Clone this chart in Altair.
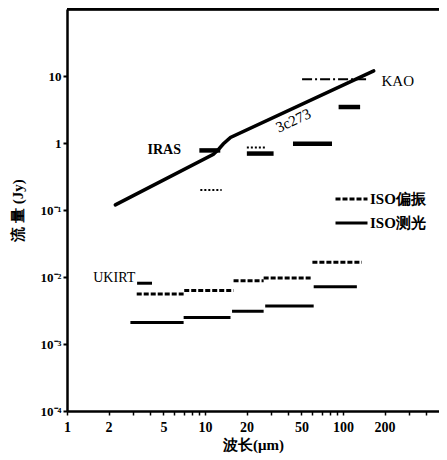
import altair as alt
import pandas as pd

SERIF = "Liberation Serif"

# 3C273 continuum curve
curve_wl = [2.24, 11.5, 12.6, 13.6, 15.3, 167.0]
curve_flux = [0.12, 0.68, 0.82, 0.98, 1.22, 12.0]

# thick bars (IRAS / ISO photometry, upper)
thick_x1 = [9.1, 20.1, 43.4, 92.9]
thick_x2 = [12.9, 31.4, 83.2, 133.0]
thick_flux = [0.78, 0.70, 0.98, 3.47]

# dotted segments
dot_x1 = [20.1, 9.25]
dot_x2 = [27.4, 13.2]
dot_flux = [0.86, 0.20]

# KAO dash-dot
kao_x1 = [50.5]
kao_x2 = [149.0]
kao_flux = [9.0]

# UKIRT bar
ukirt_x1 = [3.22]
ukirt_x2 = [4.13]
ukirt_flux = [0.0081]

# ISO polarization (dashed)
pol_x1 = [3.2, 7.07, 16.1, 26.6, 60.0]
pol_x2 = [7.0, 16.1, 26.6, 59.6, 137.0]
pol_flux = [0.0056, 0.0063, 0.0088, 0.0097, 0.0166]

# ISO photometry (solid, lower)
phot_x1 = [2.88, 7.0, 15.7, 27.3, 61.3]
phot_x2 = [7.0, 15.3, 26.6, 61.3, 126.0]
phot_flux = [0.0021, 0.0025, 0.0031, 0.0037, 0.0072]

# annotation labels
bold_text = ["IRAS"]
bold_x = [6.7]
bold_y = [0.80]
reg_text = ["UKIRT"]
reg_x = [3.12]
reg_y = [0.0098]
kao_text = ["KAO"]
kao_lx = [190.0]
kao_ly = [8.4]

x_ticks = [1, 2, 3, 4, 5, 6, 7, 8, 9, 10, 20, 30, 40, 50, 60, 70, 80, 90, 100, 200, 300, 400]
x_labels = [1, 2, 5, 10, 20, 50, 100, 200]
y_ticks = [1e-4, 1e-3, 1e-2, 1e-1, 1, 10]

W, H = 372, 402
xscale = alt.Scale(type="log", domain=[1, 496], nice=False)
yscale = alt.Scale(type="log", domain=[1e-4, 101], nice=False)

x_axis = alt.Axis(
    title="波长(μm)", values=x_ticks,
    labelExpr="indexof(" + str(x_labels) + ", datum.value) >= 0 ? datum.label : ''",
    grid=False, domainWidth=2.5, domainColor="black", tickColor="black",
    tickWidth=1.5, tickSize=4, labelFont=SERIF, labelFontSize=14, labelFontWeight="bold",
    labelColor="black", labelPadding=5, titleFont=SERIF, titleFontSize=15,
    titleFontWeight="bold", titleColor="black", titlePadding=3, labelFlush=False,
)
y_axis = alt.Axis(
    title="流 量 (Jy)", values=y_ticks,
    labelExpr="datum.value == 10 ? '10' : datum.value == 1 ? '1' : datum.value == 0.1 ? '10⁻¹' : datum.value == 0.01 ? '10⁻²' : datum.value == 0.001 ? '10⁻³' : '10⁻⁴'",
    grid=False, domainWidth=2.5, domainColor="black", tickColor="black",
    tickWidth=2, tickSize=4, labelFont=SERIF, labelFontSize=13, labelFontWeight="bold",
    labelColor="black", labelPadding=2, titleFont=SERIF, titleFontSize=15,
    titleFontWeight="bold", titleColor="black", titlePadding=15,
)

curve_df = pd.DataFrame({"wl": curve_wl, "flux": curve_flux})
curve = alt.Chart(curve_df).mark_line(color="black", strokeWidth=3.5, strokeCap="round").encode(
    x=alt.X("wl:Q", scale=xscale, axis=x_axis),
    y=alt.Y("flux:Q", scale=yscale, axis=y_axis),
)


def seg(x1, x2, f, **kw):
    df = pd.DataFrame({"x1": x1, "x2": x2, "f": f})
    return alt.Chart(df).mark_rule(color="black", **kw).encode(
        x=alt.X("x1:Q", scale=xscale), x2="x2:Q", y=alt.Y("f:Q", scale=yscale)
    )


thick = seg(thick_x1, thick_x2, thick_flux, strokeWidth=4.5)
dotted = seg(dot_x1, dot_x2, dot_flux, strokeWidth=2, strokeDash=[2, 2])
kao = seg(kao_x1, kao_x2, kao_flux, strokeWidth=2, strokeDash=[10, 3, 2, 3])
ukirt = seg(ukirt_x1, ukirt_x2, ukirt_flux, strokeWidth=3)

low_df = pd.DataFrame({
    "x1": pol_x1 + phot_x1,
    "x2": pol_x2 + phot_x2,
    "f": pol_flux + phot_flux,
    "type": ["ISO偏振"] * len(pol_x1) + ["ISO测光"] * len(phot_x1),
})
low = alt.Chart(low_df).mark_rule(color="black", strokeWidth=3).encode(
    x=alt.X("x1:Q", scale=xscale), x2="x2:Q", y=alt.Y("f:Q", scale=yscale),
    strokeDash=alt.StrokeDash(
        "type:N",
        scale=alt.Scale(domain=["ISO偏振", "ISO测光"], range=[[5, 2], [1, 0]]),
        legend=alt.Legend(
            title=None, orient="none", legendX=267, legendY=180,
            symbolType="stroke", symbolSize=1024, symbolStrokeWidth=3,
            symbolStrokeColor="black", labelFont=SERIF, labelFontSize=15,
            labelFontWeight="bold", labelColor="black", labelOffset=1, rowPadding=4,
            clipHeight=20,
        ),
    ),
)

def text_layer(t, x, y, **kw):
    df = pd.DataFrame({"t": t, "x": x, "y": y})
    return alt.Chart(df).mark_text(baseline="middle", font=SERIF, color="black", **kw).encode(
        x=alt.X("x:Q", scale=xscale), y=alt.Y("y:Q", scale=yscale), text="t:N"
    )

iras_lab = text_layer(bold_text, bold_x, bold_y, align="right", fontSize=14, fontWeight="bold")
ukirt_lab = text_layer(reg_text, reg_x, reg_y, align="right", fontSize=14)
kao_lab = text_layer(kao_text, kao_lx, kao_ly, align="left", fontSize=15)
c3 = text_layer(["3c273"], [43.6], [2.19], align="center", fontSize=15, angle=335)

top_line = alt.Chart(curve_df).mark_rule(color="black", strokeWidth=2.5).encode(
    x=alt.value(0), x2=alt.value(W), y=alt.value(0)
)

chart = alt.layer(top_line, curve, thick, dotted, kao, ukirt, low, iras_lab, ukirt_lab, kao_lab, c3).properties(
    width=W, height=H,
    autosize=alt.AutoSizeParams(type="none"),
    padding={"left": 59, "top": 1, "right": 0, "bottom": 44},
).configure_view(stroke=None).configure(background="white")

chart.save("out.html", embed_options={"renderer": "svg", "actions": False})
